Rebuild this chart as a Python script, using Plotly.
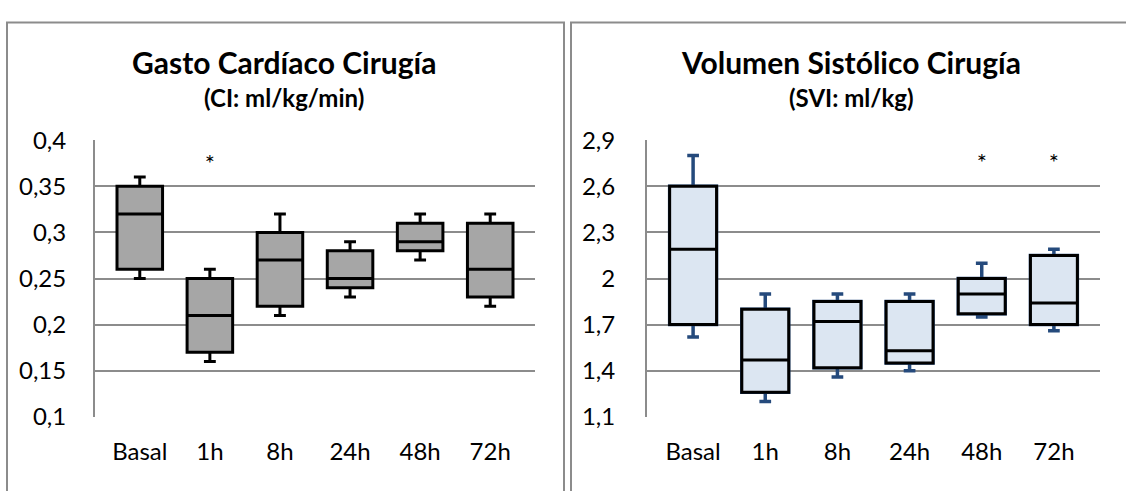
import plotly.graph_objects as go

categories = ["Basal", "1h", "8h", "24h", "48h", "72h"]

# Gasto Cardíaco (CI: ml/kg/min)
ci_low = [0.25, 0.16, 0.21, 0.23, 0.27, 0.22]
ci_q1 = [0.26, 0.17, 0.22, 0.24, 0.28, 0.23]
ci_med = [0.32, 0.21, 0.27, 0.25, 0.29, 0.26]
ci_q3 = [0.35, 0.25, 0.30, 0.28, 0.31, 0.31]
ci_high = [0.36, 0.26, 0.32, 0.29, 0.32, 0.32]
ci_star_x = ["1h"]
ci_star_y = [0.372]

# Volumen Sistólico (SVI: ml/kg)
svi_low = [1.62, 1.20, 1.36, 1.40, 1.75, 1.66]
svi_q1 = [1.70, 1.26, 1.42, 1.45, 1.77, 1.70]
svi_med = [2.19, 1.47, 1.72, 1.53, 1.90, 1.84]
svi_q3 = [2.60, 1.80, 1.85, 1.85, 2.00, 2.15]
svi_high = [2.80, 1.90, 1.90, 1.90, 2.10, 2.19]
svi_star_x = ["48h", "72h"]
svi_star_y = [2.74, 2.74]

W, H = 1126, 491
FONT = "Lato, sans-serif"
GRID = "#8c8c8c"

def px_x(x):
    return x / W

def px_y(y):
    return 1 - y / H

fig = go.Figure()

# Left panel boxes
fig.add_trace(go.Box(
    x=categories, q1=ci_q1, median=ci_med, q3=ci_q3,
    lowerfence=ci_low, upperfence=ci_high,
    fillcolor="#a6a6a6", line=dict(color="black", width=3),
    width=0.65, whiskerwidth=0.26, boxpoints=False,
    xaxis="x", yaxis="y", showlegend=False, hoverinfo="skip",
))
fig.add_trace(go.Scatter(
    x=ci_star_x, y=ci_star_y, mode="text", text=["*"] * len(ci_star_x),
    textfont=dict(size=24, color="black", family=FONT),
    xaxis="x", yaxis="y", showlegend=False, hoverinfo="skip",
))

# Right panel: whiskers (blue), then boxes (black outline)
fig.add_trace(go.Box(
    x=categories, q1=svi_q1, median=svi_med, q3=svi_q3,
    lowerfence=svi_low, upperfence=svi_high,
    fillcolor="#dce6f2", line=dict(color="#254a7c", width=3.5),
    width=0.65, whiskerwidth=0.25, boxpoints=False,
    xaxis="x2", yaxis="y2", showlegend=False, hoverinfo="skip",
))
fig.add_trace(go.Box(
    x=categories, q1=svi_q1, median=svi_med, q3=svi_q3,
    lowerfence=svi_q1, upperfence=svi_q3,
    fillcolor="#dce6f2", line=dict(color="black", width=3),
    width=0.65, whiskerwidth=0, boxpoints=False,
    xaxis="x2", yaxis="y2", showlegend=False, hoverinfo="skip",
))
fig.add_trace(go.Scatter(
    x=svi_star_x, y=svi_star_y, mode="text", text=["*"] * len(svi_star_x),
    textfont=dict(size=24, color="black", family=FONT),
    xaxis="x2", yaxis="y2", showlegend=False, hoverinfo="skip",
))

ydom = [px_y(426), px_y(132)]
xcommon = dict(
    type="category", showgrid=False, zeroline=False, showline=False,
    ticks="", tickfont=dict(size=24, color="black", family=FONT),
    fixedrange=True, ticklabelstandoff=18,
)
ycommon = dict(
    showgrid=True, gridcolor=GRID, gridwidth=2, zeroline=False,
    showline=True, linecolor=GRID, linewidth=2, ticks="",
    tickfont=dict(size=24, color="black", family=FONT), fixedrange=True,
)

title_font = dict(size=30, color="black", family=FONT)
sub_font = dict(size=24, color="black", family=FONT)

fig.update_layout(
    width=W, height=H,
    margin=dict(l=0, r=0, t=0, b=0),
    paper_bgcolor="white", plot_bgcolor="white",
    separators=", ",
    boxmode="overlay",
    font=dict(family=FONT, color="black"),
    xaxis=dict(domain=[px_x(95), px_x(535)], anchor="y", **xcommon),
    yaxis=dict(domain=ydom, anchor="x", range=[0.1, 0.4], dtick=0.05,
               tick0=0.1, ticklabelstandoff=22, **ycommon),
    xaxis2=dict(domain=[px_x(647), px_x(1100)], anchor="y2", **xcommon),
    yaxis2=dict(domain=ydom, anchor="x2", range=[1.1, 2.9], dtick=0.3,
                tick0=1.1, ticklabelstandoff=25, **ycommon),
    shapes=[
        dict(type="rect", xref="paper", yref="paper",
             x0=px_x(7), x1=px_x(564), y0=px_y(520), y1=px_y(7),
             line=dict(color=GRID, width=2), layer="below"),
        dict(type="rect", xref="paper", yref="paper",
             x0=px_x(571), x1=px_x(1200), y0=px_y(520), y1=px_y(7),
             line=dict(color=GRID, width=2), layer="below"),
    ],
    annotations=[
        dict(text="<b>Gasto Cardíaco Cirugía</b>", x=px_x(284), y=px_y(49),
             xref="paper", yref="paper", showarrow=False,
             xanchor="center", yanchor="middle", font=title_font),
        dict(text="<b>(CI: ml/kg/min)</b>", x=px_x(284), y=px_y(87),
             xref="paper", yref="paper", showarrow=False,
             xanchor="center", yanchor="middle", font=sub_font),
        dict(text="<b>Volumen Sistólico Cirugía</b>", x=px_x(851), y=px_y(49),
             xref="paper", yref="paper", showarrow=False,
             xanchor="center", yanchor="middle", font=title_font),
        dict(text="<b>(SVI: ml/kg)</b>", x=px_x(851), y=px_y(87),
             xref="paper", yref="paper", showarrow=False,
             xanchor="center", yanchor="middle", font=sub_font),
    ],
)

fig.write_html(
    "out.html",
    config=dict(displayModeBar=False),
    post_script="document.body.style.margin='0';document.body.style.padding='0';",
)
